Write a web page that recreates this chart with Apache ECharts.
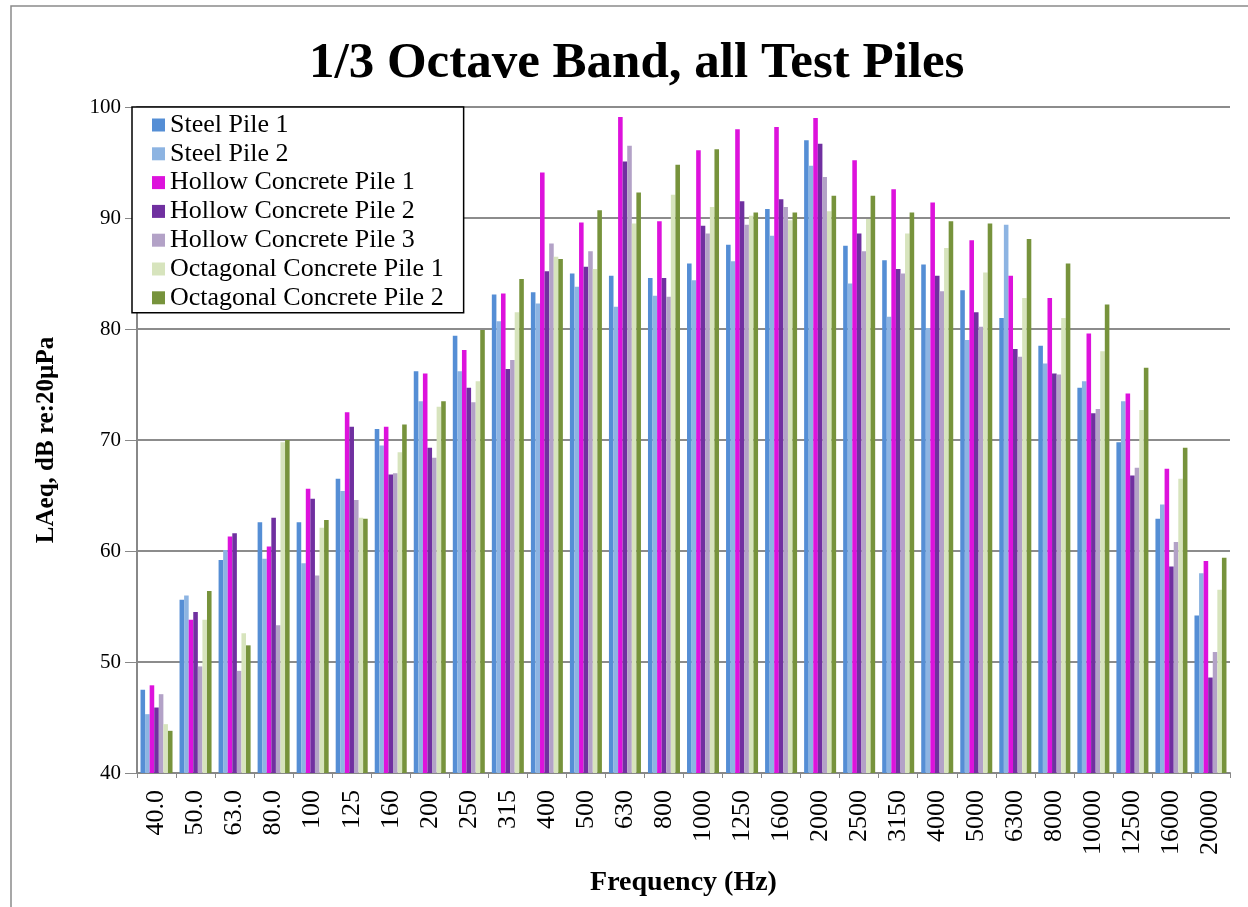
<!DOCTYPE html>
<html>
<head>
<meta charset="utf-8">
<title>1/3 Octave Band, all Test Piles</title>
<script src="https://cdn.jsdelivr.net/npm/echarts@6/dist/echarts.min.js"></script>
<style>
  html, body { margin: 0; padding: 0; background: #fff; }
  #chart { width: 1248px; height: 907px; }
</style>
</head>
<body>
<div id="chart"></div>
<script>
// 1/3 octave band centre frequencies (Hz)
const categories = ['40.0','50.0','63.0','80.0','100','125','160','200','250','315','400','500','630','800','1000','1250','1600','2000','2500','3150','4000','5000','6300','8000','10000','12500','16000','20000'];

// LAeq per band, dB re 20 µPa
const steelPile1 = [47.5,55.6,59.2,62.6,62.6,66.5,71.0,76.2,79.4,83.1,83.3,85.0,84.8,84.6,85.9,87.6,90.8,97.0,87.5,86.2,85.8,83.5,81.0,78.5,74.7,69.8,62.9,54.2];
const steelPile2 = [45.3,56.0,60.1,59.3,58.9,65.4,69.5,73.5,76.2,80.7,82.3,83.8,82.0,83.0,84.4,86.1,88.4,94.7,84.1,81.1,80.1,79.0,89.4,76.9,75.3,73.5,64.2,58.0];
const hollowConcretePile1 = [47.9,53.8,61.3,60.4,65.6,72.5,71.2,76.0,78.1,83.2,94.1,89.6,99.1,89.7,96.1,98.0,98.2,99.0,95.2,92.6,91.4,88.0,84.8,82.8,79.6,74.2,67.4,59.1];
const hollowConcretePile2 = [45.9,54.5,61.6,63.0,64.7,71.2,66.9,69.3,74.7,76.4,85.2,85.6,95.1,84.6,89.3,91.5,91.7,96.7,88.6,85.4,84.8,81.5,78.2,76.0,72.4,66.8,58.6,48.6];
const hollowConcretePile3 = [47.1,49.6,49.2,53.3,57.8,64.6,67.0,68.4,73.4,77.2,87.7,87.0,96.5,82.9,88.6,89.4,91.0,93.7,87.0,85.0,83.4,80.2,77.5,75.9,72.8,67.5,60.8,50.9];
const octagonalConcretePile1 = [44.4,53.8,52.6,69.8,62.1,63.0,68.9,73.0,75.3,81.5,86.5,85.4,89.5,92.1,91.0,90.2,89.8,90.6,89.9,88.6,87.3,85.1,82.8,81.0,78.0,72.7,66.5,56.5];
const octagonalConcretePile2 = [43.8,56.4,51.5,70.0,62.8,62.9,71.4,73.5,79.9,84.5,86.3,90.7,92.3,94.8,96.2,90.5,90.5,92.0,92.0,90.5,89.7,89.5,88.1,85.9,82.2,76.5,69.3,59.4];

// y-axis ticks
const yTicks = [40, 50, 60, 70, 80, 90, 100];

const seriesDefs = [
  { name: 'Steel Pile 1', data: steelPile1, color: '#558ED5' },
  { name: 'Steel Pile 2', data: steelPile2, color: '#8DB4E2' },
  { name: 'Hollow Concrete Pile 1', data: hollowConcretePile1, color: '#DD12DC' },
  { name: 'Hollow Concrete Pile 2', data: hollowConcretePile2, color: '#7030A0' },
  { name: 'Hollow Concrete Pile 3', data: hollowConcretePile3, color: '#B3A2C7' },
  { name: 'Octagonal Concrete Pile 1', data: octagonalConcretePile1, color: '#D7E4BD' },
  { name: 'Octagonal Concrete Pile 2', data: octagonalConcretePile2, color: '#77933C' }
];

const serif = '"Liberation Serif", "DejaVu Serif", serif';

const chart = echarts.init(document.getElementById('chart'), null, { renderer: 'canvas' });

chart.setOption({
  animation: false,
  backgroundColor: '#ffffff',
  title: {
    text: '1/3 Octave Band, all Test Piles',
    left: 304,
    top: 33,
    textStyle: { fontFamily: serif, fontWeight: 'bold', fontSize: 51, color: '#000' }
  },
  graphic: [{
    type: 'rect',
    shape: { x: 11, y: 6, width: 1240, height: 920 },
    style: { fill: 'none', stroke: '#8a8a8a', lineWidth: 1.5 },
    silent: true,
    z: -1
  }],
  legend: {
    orient: 'vertical',
    left: 132,
    top: 107,
    padding: [5, 20, 2, 20],
    backgroundColor: '#ffffff',
    borderColor: '#000',
    borderWidth: 1.5,
    itemWidth: 13,
    itemHeight: 13,
    itemGap: 2.8,
    icon: 'rect',
    textStyle: { fontFamily: serif, fontSize: 26, color: '#000' },
    z: 10
  },
  grid: { left: 137, right: 18, top: 107, bottom: 134, containLabel: false },
  xAxis: {
    type: 'category',
    data: categories,
    name: 'Frequency (Hz)',
    nameLocation: 'middle',
    nameGap: 96,
    nameTextStyle: { fontFamily: serif, fontWeight: 'bold', fontSize: 28, color: '#000' },
    axisLine: { lineStyle: { color: '#888', width: 2 } },
    axisTick: { show: true, length: 5, lineStyle: { color: '#888' } },
    axisLabel: { rotate: 90, margin: 17, fontFamily: serif, fontSize: 26, color: '#000' }
  },
  yAxis: {
    type: 'value',
    min: yTicks[0],
    max: yTicks[yTicks.length - 1],
    interval: 10,
    name: 'LAeq, dB re:20µPa',
    nameLocation: 'middle',
    nameGap: 78,
    nameRotate: 90,
    nameTextStyle: { fontFamily: serif, fontWeight: 'bold', fontSize: 25, color: '#000' },
    axisLine: { show: true, lineStyle: { color: '#888', width: 2 } },
    axisTick: { show: true, length: 12, lineStyle: { color: '#888' } },
    axisLabel: { margin: 16, fontFamily: serif, fontSize: 21, color: '#000' },
    splitLine: { show: true, lineStyle: { color: '#8c8c8c', width: 2 } }
  },
  series: seriesDefs.map(s => ({
    type: 'bar',
    name: s.name,
    data: s.data,
    barGap: '0%',
    barCategoryGap: '18%',
    itemStyle: { color: s.color },
    emphasis: { disabled: true }
  }))
});
</script>
</body>
</html>
